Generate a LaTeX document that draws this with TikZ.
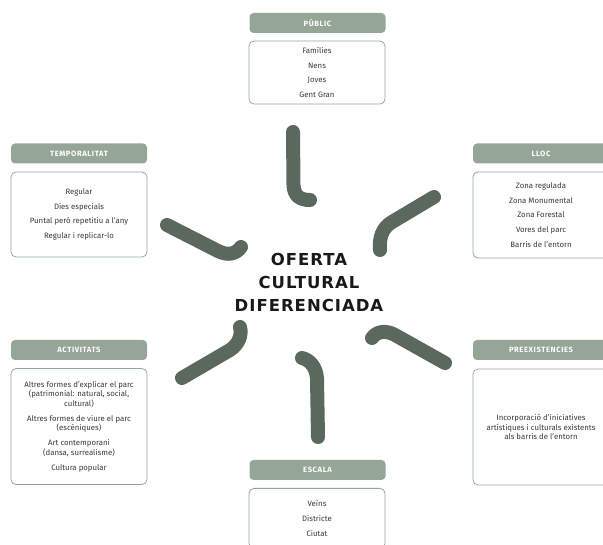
\documentclass[tikz,border=0pt]{standalone}
\usepackage{fontspec}
\setmainfont{Fira Sans}
\newfontfamily\titlefont{DejaVu Sans}
\usepackage{xcolor}
\usepackage{tikz}
\usetikzlibrary{positioning}
\definecolor{headgreen}{HTML}{95A696}
\definecolor{hookgray}{HTML}{5B685D}
\definecolor{bodytext}{HTML}{3A3A3A}

\begin{document}
\begin{tikzpicture}[x=1pt, y=-1pt,
    header/.style={rectangle, rounded corners=4pt, fill=headgreen, text=white, minimum width=136pt, minimum height=20pt, inner sep=0pt, font=\fontsize{7.6}{8}\selectfont\bfseries\addfontfeature{LetterSpace=8}},
    body/.style={rectangle, rounded corners=5pt, draw=headgreen, line width=0.8pt, fill=white, text=bodytext, minimum width=136pt, align=center, inner sep=2pt, font=\fontsize{7.8}{14.7}\selectfont},
    tight/.style={font=\fontsize{7.8}{9.5}\selectfont},
    hook/.style={draw=hookgray, line width=14pt, line cap=round},
    title/.style={align=center, text=black!90, font=\titlefont\fontsize{16.5}{23}\selectfont\bfseries\addfontfeature{LetterSpace=6}}
]
\useasboundingbox (0,0) rectangle (603,545);
\clip (0,0) rectangle (603,545);

\node[header] (publicH) at (317.5,23) {PÚBLIC};
\node[body, minimum height=63pt] (publicB) at (317,72.5) {Famílies\\Nens\\Joves\\Gent Gran};

\node[header] (tempsH) at (79,153.5) {TEMPORALITAT};
\node[body, minimum height=85pt] (tempsB) at (79,214.5) {Regular\\Dies especials\\Puntal però repetitiu a l'any\\Regular i replicar-lo};

\node[header] (llocH) at (541,153.5) {LLOC};
\node[body, minimum height=86pt] (llocB) at (541,215) {Zona regulada\\Zona Monumental\\Zona Forestal\\Vores del parc\\Barris de l'entorn};

\node[header] (activH) at (79,350) {ACTIVITATS};
\node[body, tight, minimum height=116pt] (activB) at (79,426.5) {Altres formes d'explicar el parc\\(patrimonial: natural, social,\\cultural)\\[5.5pt]Altres formes de viure el parc\\(escèniques)\\[5.5pt]Art contemporani\\(dansa, surrealisme)\\[5.5pt]Cultura popular};

\node[header] (preexH) at (541,350) {PREEXISTENCIES};
\node[body, tight, minimum height=116pt] (preexB) at (541,427) {Incorporació d'iniciatives\\artístiques i culturals existents\\als barris de l'entorn};

\node[header] (escalaH) at (317.5,470) {ESCALA};
\node[body, minimum height=60pt, anchor=north] (escalaB) at (317,488) {Veïns\\Districte\\Ciutat};

\node[title] (oferta) at (309,282) {OFERTA\\CULTURAL\\DIFERENCIADA};

\draw[hook] (293,132) -- (293.5,185) .. controls (294,196) and (300,200) .. (310,200);
\draw[hook] (434,197) -- (392,222) .. controls (382,228) and (379,238) .. (380,250);
\draw[hook] (167,225) -- (218,251) .. controls (228,256) and (236,254) .. (241,247);
\draw[hook] (182,378) -- (230,350) .. controls (239,344) and (242,335) .. (240,327);
\draw[hook] (445,363) -- (395,335) .. controls (386,330) and (377,331) .. (372,338);
\draw[hook] (318,437) -- (317,378) .. controls (316,367) and (310,360) .. (302,358);
\end{tikzpicture}
\end{document}
